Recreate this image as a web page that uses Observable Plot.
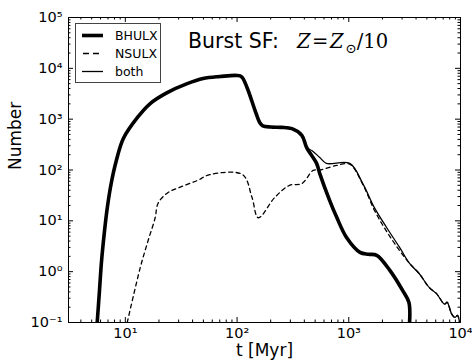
<!DOCTYPE html>
<html><head><meta charset="utf-8">
<script src="https://cdn.jsdelivr.net/npm/d3@7"></script>
<script src="https://cdn.jsdelivr.net/npm/@observablehq/plot@0.6"></script>
<style>
body{margin:0;background:#fff;}
#wrap{position:relative;width:472px;height:361px;font-family:"DejaVu Sans",sans-serif;overflow:hidden;}
.tt{position:absolute;top:31px;line-height:1;white-space:nowrap;color:#000;}
#t1{left:188px;font-size:20.5px;font-family:"DejaVu Sans",sans-serif;}
#t2{left:297px;font-size:19.5px;font-family:"DejaVu Serif",serif;top:32px;}
#t2 .eq{margin:0 1.5px;}
#t2 .sub{font-size:13.5px;position:relative;top:5px;margin-left:2px;}
#legend{position:absolute;left:75px;top:23px;}
</style></head><body><div id="wrap"></div>
<script>
// BHULX (thick)
const bhT = [5.6, 5.87, 6.11, 6.49, 6.9, 7.5, 8.31, 9.6, 12.8, 16.7, 23.7, 35.8, 49.7, 70.5, 100, 110, 123, 145, 160, 170, 200, 250, 310, 380, 420, 515, 550, 675, 780, 955, 1260, 1500, 1780, 2340, 3030, 3450, 3500];
const bhN = [0.1, 0.425, 1.51, 5.9, 18.3, 56.8, 154, 417, 1070, 2030, 3330, 5000, 6300, 6900, 7250, 6800, 4150, 1480, 850, 740, 700, 690, 650, 480, 275, 135, 85, 25, 11.7, 4.7, 2.4, 2.2, 2.1, 1.05, 0.43, 0.25, 0.1];
// NSULX (dashed)
const nsT = [10.4, 13.6, 16, 18.5, 19.6, 23.7, 31, 44, 57, 112, 136, 155, 218, 295, 380, 480, 550, 780, 1020, 1335, 1700, 2180, 2850, 3500, 4280, 5240, 6100, 7200, 7600, 8300, 8900, 9400, 9800];
const nsN = [0.1, 1.2, 4.1, 11.5, 22, 35, 46, 62, 81, 81, 29, 11.5, 29, 50, 54, 98, 100, 123, 130, 52, 16, 6.2, 2.6, 1.45, 0.91, 0.49, 0.37, 0.23, 0.25, 0.15, 0.126, 0.138, 0.1];
// both (thin)
const boT = [5.6, 5.87, 6.11, 6.49, 6.9, 7.5, 8.31, 9.6, 12.8, 16.7, 23.7, 35.8, 49.7, 70.5, 100, 110, 123, 145, 160, 170, 200, 250, 310, 380, 420, 470, 550, 630, 1020, 1335, 1700, 2180, 2850, 3500, 4280, 5240, 6100, 7200, 7600, 8300, 8900, 9400, 9800];
const boN = [0.1, 0.425, 1.51, 5.9, 18.3, 56.8, 154, 417, 1070, 2030, 3330, 5000, 6300, 6900, 7250, 6800, 4150, 1480, 850, 740, 700, 690, 650, 480, 275, 240, 176, 135, 135, 54, 18, 7.4, 3.0, 1.45, 0.91, 0.49, 0.37, 0.23, 0.25, 0.15, 0.126, 0.138, 0.1];

const xMajor = [10, 100, 1000, 10000];
const yMajor = [0.1, 1, 10, 100, 1000, 10000, 100000];
const xMinor = [4,5,6,7,8,9,20,30,40,50,60,70,80,90,200,300,400,500,600,700,800,900,2000,3000,4000,5000,6000,7000,8000,9000];
const yMinor = [];
for (const p of [0.1, 1, 10, 100, 1000, 10000]) for (let k = 2; k <= 9; k++) yMinor.push(+(p * k).toPrecision(3));

const series = [
  {name: "BHULX", t: bhT, n: bhN},
  {name: "NSULX", t: nsT, n: nsN},
  {name: "both", t: boT, n: boN}
];
const rows = s => s.t.map((t, i) => ({t, n: s.n[i]}));

const W = 472, H = 361, mL = 68, mR = 12, mT = 17, mB = 39;
const pw = W - mL - mR, ph = H - mT - mB;
const supMap = {"-": "⁻", "0": "⁰", "1": "¹", "2": "²", "3": "³", "4": "⁴", "5": "⁵", "6": "⁶", "7": "⁷", "8": "⁸", "9": "⁹"};
const fmt = d => "10" + String(Math.round(Math.log10(d))).split("").map(c => supMap[c]).join("");

const maj = 5, mnr = 2.5;
const chart = Plot.plot({
  width: W, height: H,
  marginLeft: mL, marginRight: mR, marginTop: mT, marginBottom: mB,
  style: {fontFamily: "DejaVu Sans", fontSize: "14.5px", color: "black", background: "white"},
  x: {type: "log", domain: [3.1, 10000]},
  y: {type: "log", domain: [0.1, 100000]},
  marks: [
    Plot.tickX(xMajor, {x: d => d, insetTop: ph - maj, stroke: "black"}),
    Plot.tickX(xMajor, {x: d => d, insetBottom: ph - maj, stroke: "black"}),
    Plot.tickX(xMinor, {x: d => d, insetTop: ph - mnr, stroke: "black"}),
    Plot.tickX(xMinor, {x: d => d, insetBottom: ph - mnr, stroke: "black"}),
    Plot.tickY(yMajor, {y: d => d, insetRight: pw - maj, stroke: "black"}),
    Plot.tickY(yMajor, {y: d => d, insetLeft: pw - maj, stroke: "black"}),
    Plot.tickY(yMinor, {y: d => d, insetRight: pw - mnr, stroke: "black"}),
    Plot.tickY(yMinor, {y: d => d, insetLeft: pw - mnr, stroke: "black"}),
    Plot.line(rows(series[2]), {x: "t", y: "n", stroke: "black", strokeWidth: 1.3, curve: "catmull-rom", clip: true}),
    Plot.line(rows(series[1]), {x: "t", y: "n", stroke: "black", strokeWidth: 1.3, strokeDasharray: "4,3.5", curve: "catmull-rom", clip: true}),
    Plot.line(rows(series[0]), {x: "t", y: "n", stroke: "black", strokeWidth: 3.6, curve: "catmull-rom", clip: true}),
    Plot.frame({stroke: "black", strokeWidth: 1}),
    Plot.axisX({ticks: xMajor, tickFormat: fmt, tickSize: 0, tickPadding: 5, label: null, fontSize: 14.5}),
    Plot.axisY({ticks: yMajor, tickFormat: fmt, tickSize: 0, tickPadding: 6, label: null, fontSize: 14.5}),
    Plot.text(["Number"], {frameAnchor: "left", rotate: -90, dx: -53, fontSize: 17, fill: "black"}),
    Plot.text(["t [Myr]"], {frameAnchor: "bottom", lineAnchor: "top", dy: 21, fontSize: 17, fill: "black"})
  ]
});

const wrap = document.getElementById("wrap");
wrap.appendChild(chart);

// title
const t1 = document.createElement("div");
t1.className = "tt"; t1.id = "t1";
t1.textContent = "Burst SF:";
wrap.appendChild(t1);
const t2 = document.createElement("div");
t2.className = "tt"; t2.id = "t2";
t2.innerHTML = '<i>Z</i><span class="eq">=</span><i>Z</i><span class="sub">⊙</span>/10';
wrap.appendChild(t2);

// legend
const lw = 85, lh = 59;
const leg = d3.create("svg").attr("id", "legend").attr("width", lw + 1).attr("height", lh + 1);
leg.append("rect").attr("x", 0.5).attr("y", 0.5).attr("width", lw).attr("height", lh)
  .attr("fill", "white").attr("stroke", "#444").attr("stroke-width", 1);
const styles = [{w: 3.6, dash: null}, {w: 1.3, dash: "6,4"}, {w: 1.3, dash: null}];
series.forEach((s, i) => {
  const cy = 12.5 + i * 18;
  const ln = leg.append("line").attr("x1", 7).attr("x2", 28).attr("y1", cy).attr("y2", cy)
    .attr("stroke", "black").attr("stroke-width", styles[i].w);
  if (styles[i].dash) ln.attr("stroke-dasharray", styles[i].dash).attr("stroke-dashoffset", -1);
  leg.append("text").attr("x", 40).attr("y", cy + 4.5).attr("font-family", "DejaVu Sans")
    .attr("font-size", 12.5).text(s.name);
});
wrap.appendChild(leg.node());
</script></body></html>
